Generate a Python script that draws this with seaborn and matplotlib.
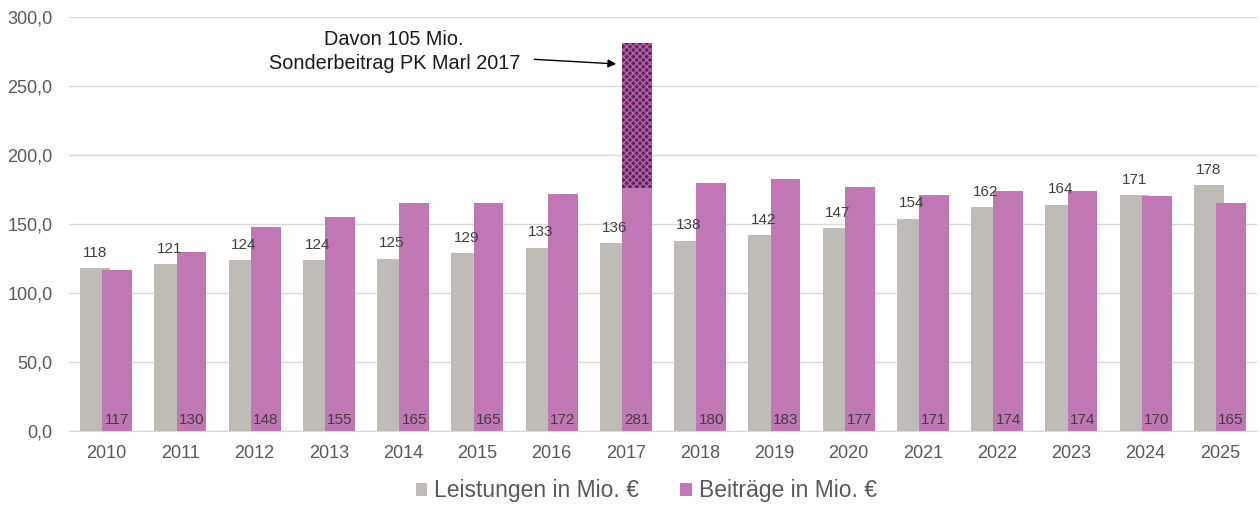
import matplotlib
matplotlib.use("Agg")
import matplotlib.pyplot as plt
from matplotlib.patches import Patch
import numpy as np
import pandas as pd
import seaborn as sns

# data
jahre = ["2010", "2011", "2012", "2013", "2014", "2015", "2016", "2017",
         "2018", "2019", "2020", "2021", "2022", "2023", "2024", "2025"]
leistungen = [118, 121, 124, 124, 125, 129, 133, 136, 138, 142, 147, 154, 162, 164, 171, 178]
beitraege = [117, 130, 148, 155, 165, 165, 172, 281, 180, 183, 177, 171, 174, 174, 170, 165]
sonder_jahr = "2017"
sonderbeitrag = 105

serien = ["Leistungen in Mio. €", "Beiträge in Mio. €"]
farben = ["#BFBCB8", "#C077B4"]
textgrau = "#595959"

df = pd.DataFrame({
    "Jahr": jahre * 2,
    "Wert": leistungen + beitraege,
    "Art": [serien[0]] * len(jahre) + [serien[1]] * len(jahre),
})

sns.set_style("white")
plt.rcParams["font.family"] = ["Liberation Sans", "DejaVu Sans"]

fig = plt.figure(figsize=(12.6, 5.09), dpi=100)
ax = fig.add_axes([0.0548, 0.153, 0.9428, 0.8136])

sns.barplot(data=df, x="Jahr", y="Wert", hue="Art", hue_order=serien,
            palette=farben, width=0.6, saturation=1, ax=ax, legend=False)

# overlapping bars like the original (wider than the dodge slot)
breite = 0.4
for k, cont in enumerate(ax.containers):
    shift = -0.15 if k == 0 else 0.15
    for i, bar in enumerate(cont):
        bar.set_width(breite)
        bar.set_x(i + shift - breite / 2)
        bar.set_linewidth(0)
        bar.set_zorder(2 + k)

# hatched special contribution on top of the 2017 bar
idx = jahre.index(sonder_jahr)
b17 = beitraege[idx]
ax.bar(idx + 0.15, sonderbeitrag, bottom=b17 - sonderbeitrag, width=breite,
       facecolor="#3f3a3e", edgecolor="#d24fc4", hatch="xxxxx", linewidth=0, zorder=4)

# value labels
for i, v in enumerate(leistungen):
    ax.annotate(str(v), (i - 0.15, v), xytext=(0, 6), textcoords="offset points",
                ha="center", va="bottom", fontsize=11, color="#404040", zorder=6)
for i, v in enumerate(beitraege):
    ax.annotate(str(v), (i + 0.15, 0), xytext=(0, 3), textcoords="offset points",
                ha="center", va="bottom", fontsize=11, color="#404040", zorder=6)

# annotation for the special contribution
ax.annotate("Davon 105 Mio.\nSonderbeitrag PK Marl 2017",
            xy=(idx - 0.13, 266), xytext=(3.88, 275),
            ha="center", va="center", fontsize=14.3, color="#1a1a1a",
            linespacing=1.3,
            arrowprops=dict(arrowstyle="-|>", color="black", lw=1,
                            shrinkA=8, shrinkB=0, mutation_scale=12),
            zorder=7)

ax.set_ylim(0, 300)
ax.set_xlim(-0.5, len(jahre) - 0.5)
ax.set_yticks(np.arange(0, 301, 50))
ax.set_yticklabels([f"{t:.1f}".replace(".", ",") for t in np.arange(0, 301, 50)])
ax.set_xlabel("")
ax.set_ylabel("")
ax.yaxis.grid(True, color="#D9D9D9", linewidth=1)
ax.set_axisbelow(True)
for s in ["top", "right", "left"]:
    ax.spines[s].set_visible(False)
ax.spines["bottom"].set_color("#D9D9D9")
ax.tick_params(axis="both", length=0, labelsize=13, labelcolor=textgrau)
ax.tick_params(axis="x", pad=10)
ax.tick_params(axis="y", pad=12)

handles = [Patch(facecolor=c, edgecolor="none") for c in farben]
fig.legend(handles, serien, loc="center", bbox_to_anchor=(0.513, 0.036),
           ncol=2, frameon=False, fontsize=16.5, handlelength=0.5, handleheight=0.5,
           handletextpad=0.3, columnspacing=1.8, labelcolor=textgrau)

plt.savefig("out.png", dpi=100)
